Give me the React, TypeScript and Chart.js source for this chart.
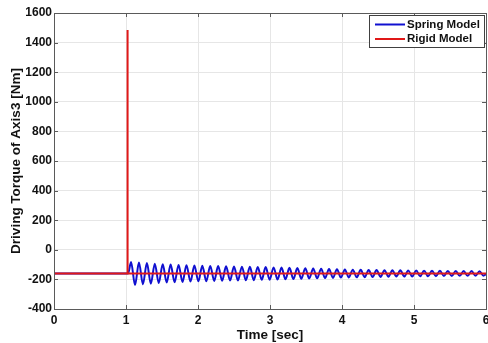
import React, { useEffect, useRef } from "react";
import { Chart, registerables } from "chart.js";

Chart.register(...registerables);

// Rigid model: driving torque (Nm) vs time (s)
const rigidTime = [0, 1.0, 1.02, 1.02, 1.024, 6.0];
const rigidTorque = [-160, -160, -160, 1485, -160, -160];

// Spring model: read extrema of the decaying oscillation
const springTime = [
  0, 1.0, 1.03,
  1.07, 1.125, 1.18, 1.235, 1.29, 1.345, 1.4, 1.455, 1.51, 1.565,
  1.62, 1.675, 1.73, 1.785, 1.84, 1.895, 1.95, 2.005, 2.06, 2.115,
  2.17, 2.225, 2.28, 2.335, 2.39, 2.445, 2.5, 2.555, 2.61, 2.665,
  2.72, 2.775, 2.83, 2.885, 2.94, 2.995, 3.05, 3.105, 3.16, 3.215,
  3.27, 3.325, 3.38, 3.435, 3.49, 3.545, 3.6, 3.655, 3.71, 3.765,
  3.82, 3.875, 3.93, 3.985, 4.04, 4.095, 4.15, 4.205, 4.26, 4.315,
  4.37, 4.425, 4.48, 4.535, 4.59, 4.645, 4.7, 4.755, 4.81, 4.865,
  4.92, 4.975, 5.03, 5.085, 5.14, 5.195, 5.25, 5.305, 5.36, 5.415,
  5.47, 5.525, 5.58, 5.635, 5.69, 5.745, 5.8, 5.855, 5.91, 5.965,
  6.0,
];
const springTorque = [
  -160, -160, -160,
  -82, -238, -86, -233, -90, -229, -94, -225, -98, -221,
  -100, -219, -102, -217, -104, -215, -106, -213, -108, -212,
  -109, -210, -110, -209, -111, -208, -113, -207, -114, -206,
  -115, -205, -116, -203, -117, -202, -119, -201, -120, -199,
  -122, -198, -123, -196, -125, -194, -127, -193, -128, -191,
  -130, -190, -131, -188, -133, -187, -134, -186, -135, -185,
  -136, -184, -137, -183, -138, -182, -138, -181, -139, -181,
  -140, -180, -140, -179, -141, -179, -142, -178, -142, -177,
  -143, -177, -143, -176, -144, -176, -144, -175, -145, -175,
  -165,
];

const seriesNames = ["Spring Model", "Rigid Model"];
const seriesColors = ["#1010d0", "#e01818"];
const xTitle = "Time [sec]";
const yTitle = "Driving Torque of Axis3 [Nm]";

const FONT = "'Liberation Sans', Arial, sans-serif";

const boxPlugin = {
  id: "matlabBox",
  afterDatasetsDraw(chart: any) {
    const { ctx, chartArea: a, scales } = chart;
    ctx.save();
    ctx.strokeStyle = "#5a5a5a";
    ctx.lineWidth = 1;
    // inward tick marks
    const tl = 4;
    ctx.beginPath();
    scales.x.ticks.forEach((t: any) => {
      const px = Math.round(scales.x.getPixelForValue(t.value)) + 0.5;
      ctx.moveTo(px, a.top);
      ctx.lineTo(px, a.top + tl);
      ctx.moveTo(px, a.bottom);
      ctx.lineTo(px, a.bottom - tl);
    });
    scales.y.ticks.forEach((t: any) => {
      const py = Math.round(scales.y.getPixelForValue(t.value)) + 0.5;
      ctx.moveTo(a.left, py);
      ctx.lineTo(a.left + tl, py);
      ctx.moveTo(a.right, py);
      ctx.lineTo(a.right - tl, py);
    });
    ctx.stroke();
    ctx.strokeRect(Math.round(a.left) + 0.5, Math.round(a.top) + 0.5, Math.round(a.right - a.left), Math.round(a.bottom - a.top));

    // legend box
    const bx = a.right - 117;
    const by = a.top + 2;
    const bw = 115;
    const bh = 32;
    ctx.fillStyle = "#ffffff";
    ctx.fillRect(bx, by, bw, bh);
    ctx.strokeStyle = "#404040";
    ctx.strokeRect(Math.round(bx) + 0.5, Math.round(by) + 0.5, bw, bh);
    ctx.font = `bold 11.5px ${FONT}`;
    ctx.textBaseline = "middle";
    ctx.textAlign = "left";
    seriesNames.forEach((name, i) => {
      const y = by + 9.5 + i * 14.5;
      ctx.strokeStyle = seriesColors[i];
      ctx.lineWidth = 2;
      ctx.beginPath();
      ctx.moveTo(bx + 6, y);
      ctx.lineTo(bx + 36, y);
      ctx.stroke();
      ctx.fillStyle = "#111111";
      ctx.fillText(name, bx + 38, y);
    });
    ctx.restore();
  },
};

export default function App() {
  const ref = useRef<HTMLCanvasElement | null>(null);
  useEffect(() => {
    document.body.style.margin = "0";
    document.body.style.overflow = "hidden";
    const canvas = ref.current;
    if (!canvas) return;
    const chart = new Chart(canvas, {
      type: "line",
      data: {
        datasets: [
          {
            label: seriesNames[0],
            data: springTime.map((t, i) => ({ x: t, y: springTorque[i] })),
            borderColor: seriesColors[0],
            borderWidth: 2,
            pointRadius: 0,
            cubicInterpolationMode: "monotone",
            order: 1,
          },
          {
            label: seriesNames[1],
            data: rigidTime.map((t, i) => ({ x: t, y: rigidTorque[i] })),
            borderColor: seriesColors[1],
            borderWidth: 2,
            pointRadius: 0,
            tension: 0,
            order: 0,
          },
        ],
      },
      options: {
        responsive: false,
        animation: false,
        devicePixelRatio: 1,
        layout: { padding: { top: 13, right: 8, left: 0, bottom: 0 } },
        plugins: { legend: { display: false }, tooltip: { enabled: false } },
        scales: {
          x: {
            type: "linear",
            min: 0,
            max: 6,
            grid: { color: "#e6e6e6", drawTicks: false },
            border: { display: false },
            ticks: {
              stepSize: 1,
              padding: 4,
              color: "#111111",
              font: { family: FONT, size: 12, weight: "bold" },
              maxRotation: 0,
              callback: (v: any) => String(v),
            },
            title: {
              display: true,
              text: xTitle,
              color: "#111111",
              font: { family: FONT, size: 13.5, weight: "bold" },
              padding: { top: 0, bottom: 0 },
            },
            afterFit: (s: any) => {
              s.height = 34;
            },
          },
          y: {
            type: "linear",
            min: -400,
            max: 1600,
            grid: { color: "#e6e6e6", drawTicks: false },
            border: { display: false },
            ticks: {
              stepSize: 200,
              padding: 2,
              color: "#111111",
              font: { family: FONT, size: 12, weight: "bold" },
              callback: (v: any) => String(v),
            },
            title: {
              display: true,
              text: yTitle,
              color: "#111111",
              font: { family: FONT, size: 13.5, weight: "bold" },
              padding: { top: 8, bottom: 0 },
            },
            afterFit: (s: any) => {
              s.width = 54;
            },
          },
        },
      },
      plugins: [boxPlugin],
    });
    return () => chart.destroy();
  }, []);
  return (
    <div style={{ width: 488, height: 343, overflow: "hidden" }}>
      <canvas ref={ref} width={494} height={343} style={{ display: "block" }} />
    </div>
  );
}
